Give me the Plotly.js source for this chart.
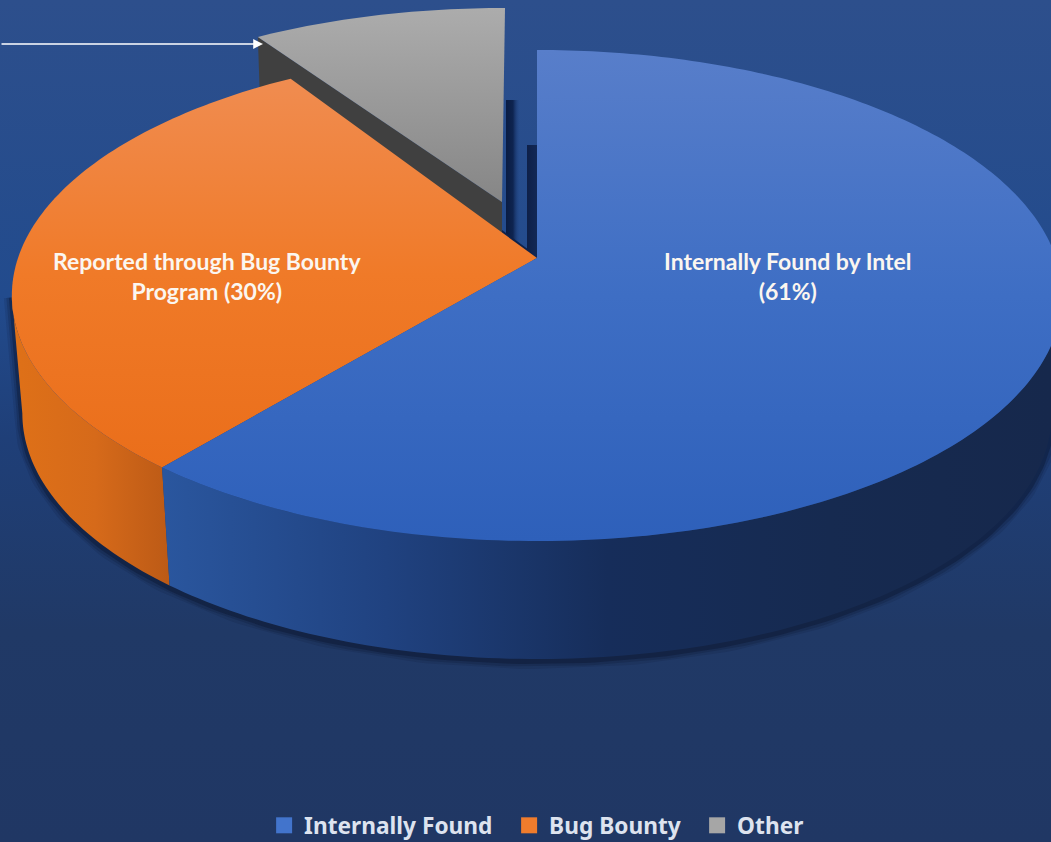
<!DOCTYPE html>
<html>
<head>
<meta charset="utf-8">
<script src="https://cdn.plot.ly/plotly-3.0.1.min.js"></script>
<style>
  html, body { margin: 0; padding: 0; width: 1051px; height: 842px; overflow: hidden;
    background: linear-gradient(180deg, #2d4f8c 0%, #224b8d 35%, #1f3f78 52%, #203966 75%, #203764 100%); }
  #chart { width: 1051px; height: 842px; }
</style>
</head>
<body>
<div id="chart"></div>
<script>
// Share of reported vulnerabilities by how they were found (percent)
const categories = ['Internally Found', 'Bug Bounty', 'Other'];
const shares = [61, 30, 9];
const sliceLabels = ['Internally Found by Intel<br>(61%)', 'Reported through Bug Bounty<br>Program (30%)'];
const swatchColors = ['#4274cc', '#f07c2c', '#a6a6a6'];
const legendWidths = [200, 143, 70];

// Perspective disc: a unit circle (u, v) projected onto the plot's pixel-sized axes
const disc = { cx: 537, cy: 258, r: 519, a: -200.4, c: 0.1527, skew: 0 };
const liftedDisc = { cx: 502, cy: 202, r: 481, a: -193.6, c: 0.053, skew: 3 };
const depth = 118;
const floorScale = 0.98;

function project(d, deg, radius = 1) {
  const t = deg * Math.PI / 180;
  const u = radius * Math.sin(t), v = radius * Math.cos(t);
  const w = 1 + d.c * v;
  return [d.cx + d.r * u / w + d.skew * v, (d.a * v + d.cy) / w];
}
function dropToFloor(p) {
  return [disc.cx + floorScale * (p[0] - disc.cx), p[1] + depth];
}
function arc(d, from, to) {
  const n = Math.max(2, Math.ceil(Math.abs(to - from)));
  return Array.from({ length: n + 1 }, (_, i) => project(d, from + (to - from) * i / n));
}
function poly(points, fillgradient, fillcolor) {
  const t = {
    type: 'scatter', mode: 'none', fill: 'toself', hoverinfo: 'skip', showlegend: false,
    x: points.map(p => p[0]), y: points.map(p => p[1])
  };
  if (fillgradient) t.fillgradient = fillgradient; else t.fillcolor = fillcolor;
  return t;
}
function ramp(type, start, stop, colors) {
  return { type, start, stop, colorscale: colors.map((c, i) => [i / (colors.length - 1), c]) };
}

// Slice boundaries, clockwise from twelve o'clock
const total = shares.reduce((s, x) => s + x, 0);
const blueEnd = shares[0] / total * 360;
const orangeEnd = blueEnd + shares[1] / total * 360;
// Angles where the rim of the perspective disc reaches its widest point
const silhouette = Math.acos(-disc.c) * 180 / Math.PI;
const leftEdge = 360 - silhouette;
const rightEdge = silhouette;

const apex = project(disc, 0, 0);
const liftedApex = project(liftedDisc, 0, 0);
const liftedCorner = project(liftedDisc, orangeEnd);

const traces = [];

// Soft contact shadow under the rim
const floorRim = arc(disc, rightEdge, leftEdge).map(dropToFloor);
const rimShadow = [project(disc, rightEdge), ...floorRim, project(disc, leftEdge)];
[[16, 0.1], [11, 0.16], [6, 0.3]].forEach(([w, alpha]) => {
  traces.push({
    type: 'scatter', mode: 'lines', hoverinfo: 'skip', showlegend: false,
    x: rimShadow.map(p => p[0]), y: rimShadow.map(p => p[1] + 2),
    line: { color: `rgba(6,12,32,${alpha})`, width: w }
  });
});

// Shadows in the gap between the lifted slice and the cut face of the disc
traces.push(poly([
  [liftedApex[0] + 4, apex[1] - 158], [liftedApex[0] + 18, apex[1] - 158],
  [liftedApex[0] + 18, apex[1] - 10], [liftedApex[0] + 4, apex[1] - 10]
], ramp('horizontal', liftedApex[0] + 4, liftedApex[0] + 18, ['rgb(10,28,66)', 'rgb(14,36,80)', 'rgba(34,70,135,0)'])));
traces.push(poly([
  [apex[0] - 10, apex[1] - 113], [apex[0], apex[1] - 113], [apex[0], apex[1]], [apex[0] - 10, apex[1]]
], ramp('horizontal', apex[0] - 10, apex[0], ['rgb(14,32,72)', 'rgb(18,40,86)'])));
traces.push(poly([
  [liftedApex[0], apex[1] - 28], [apex[0] - 8, apex[1] - 8], [apex[0], apex[1] + 2], [liftedApex[0], apex[1] + 2]
], null, 'rgb(16,34,74)'));

// Cut wall and top of the lifted slice
traces.push(poly([
  liftedCorner, liftedApex, [liftedApex[0], liftedApex[1] + 60], [liftedCorner[0] + 2, liftedCorner[1] + 60]
], null, 'rgb(64,64,64)'));
traces.push(poly(
  [liftedApex, ...arc(liftedDisc, orangeEnd, 360)],
  ramp('vertical', 8, 202, ['rgb(172,172,172)', 'rgb(134,134,134)'])
));

// Outer walls
const orangeRim = arc(disc, blueEnd, leftEdge);
traces.push(poly(
  [...orangeRim, ...orangeRim.slice().reverse().map(dropToFloor)],
  ramp('horizontal', 20, 170, ['rgb(222,112,24)', 'rgb(214,106,26)', 'rgb(188,90,22)'])
));
const blueRim = arc(disc, rightEdge, blueEnd);
traces.push(poly(
  [...blueRim, ...blueRim.slice().reverse().map(dropToFloor)],
  ramp('horizontal', 165, 1051, ['rgb(42,86,158)', 'rgb(32,66,128)', 'rgb(22,45,90)', 'rgb(22,42,80)', 'rgb(22,40,76)'])
));

// Top faces of the two seated slices
traces.push(poly(
  [apex, ...arc(disc, blueEnd, orangeEnd)],
  ramp('vertical', 80, 470, ['rgb(240,140,80)', 'rgb(240,122,40)', 'rgb(234,110,26)'])
));
traces.push(poly(
  [apex, ...arc(disc, 0, blueEnd)],
  ramp('vertical', 50, 541, ['rgb(88,126,202)', 'rgb(62,110,196)', 'rgb(46,96,186)'])
));

// Legend entries
categories.forEach((name, i) => {
  traces.push({
    type: 'scatter', mode: 'markers', name, x: [null], y: [null], legendwidth: legendWidths[i],
    marker: { symbol: 'square', size: 16, color: swatchColors[i] }
  });
});

const labelFont = { family: 'Lato, "Open Sans", sans-serif', size: 23, color: '#fbf6f0', weight: 700 };

const layout = {
  width: 1051, height: 842,
  margin: { l: 0, r: 0, t: 0, b: 0, autoexpand: false },
  paper_bgcolor: 'rgba(0,0,0,0)', plot_bgcolor: 'rgba(0,0,0,0)',
  xaxis: { range: [0, 1051], visible: false, fixedrange: true },
  yaxis: { range: [842, 0], visible: false, fixedrange: true },
  showlegend: true,
  legend: {
    orientation: 'h', x: 0.512, xanchor: 'center', y: -0.006, yanchor: 'bottom',
    bgcolor: 'rgba(0,0,0,0)', itemclick: false, itemdoubleclick: false,
    font: { family: '"Noto Sans", sans-serif', size: 22.7, color: '#dde3ef', weight: 700 }
  },
  annotations: [
    { x: 788, y: 276, xref: 'x', yref: 'y', text: sliceLabels[0], showarrow: false, font: labelFont, align: 'center' },
    { x: 207, y: 276, xref: 'x', yref: 'y', text: sliceLabels[1], showarrow: false, font: labelFont, align: 'center' },
    {
      x: 263, y: 44, ax: 0, ay: 44, xref: 'x', yref: 'y', axref: 'x', ayref: 'y', text: '',
      showarrow: true, arrowhead: 2, arrowsize: 1.4, arrowwidth: 1.4, arrowcolor: '#ffffff', standoff: 0
    }
  ]
};

Plotly.newPlot('chart', traces, layout, { displayModeBar: false, staticPlot: true });
</script>
</body>
</html>
